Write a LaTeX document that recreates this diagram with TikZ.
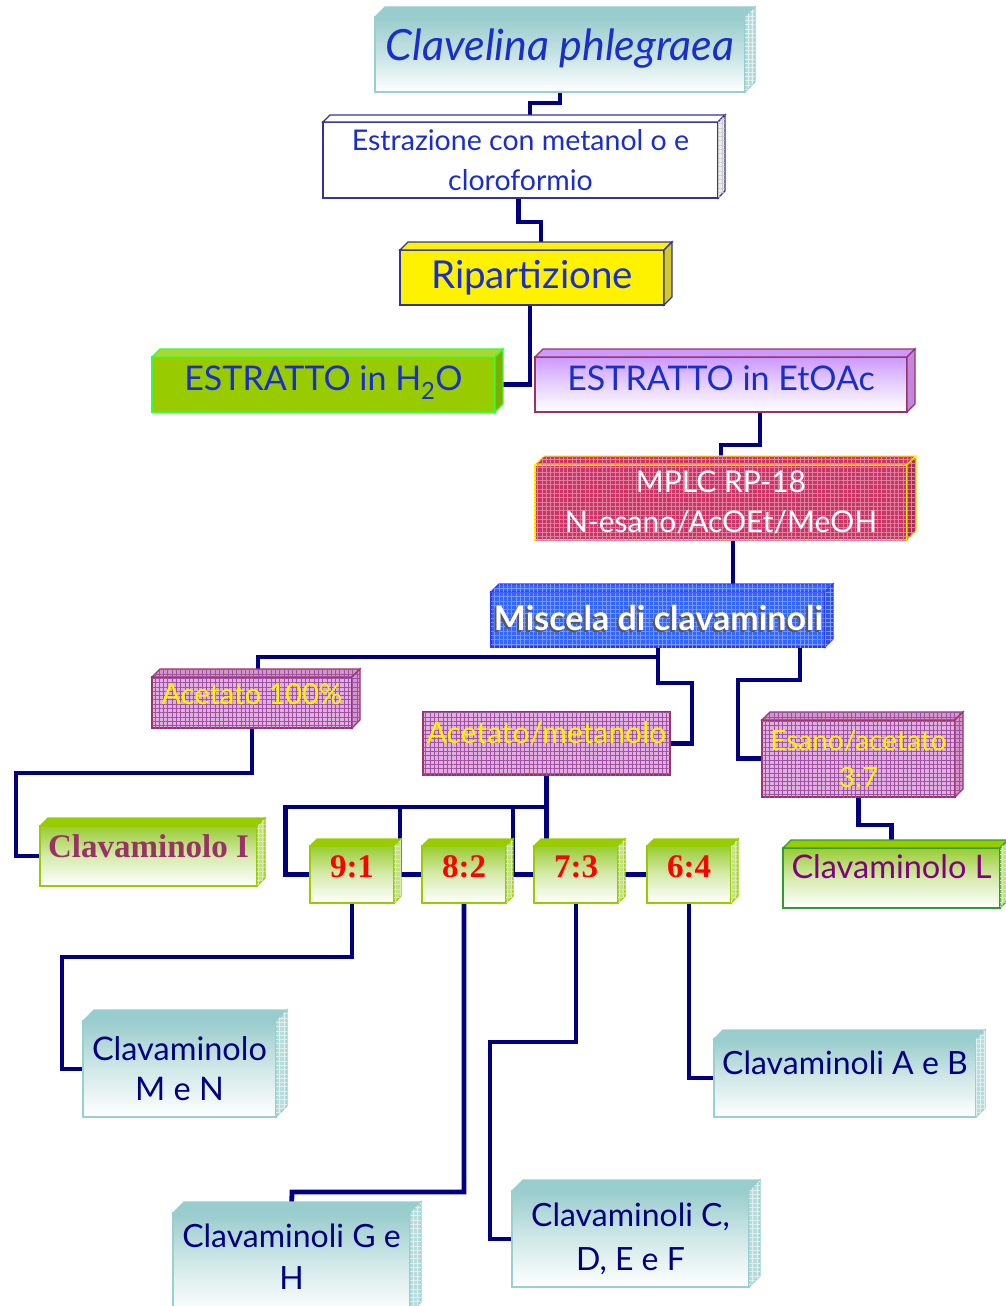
\documentclass[tikz,border=0pt]{standalone}
\usepackage{fontspec}
\setmainfont{Lato}
\newfontfamily\timesfont{Liberation Serif}
\usetikzlibrary{calc,backgrounds,patterns.meta}

\definecolor{wire}{HTML}{000080}
\definecolor{inkblue}{HTML}{1A2ECC}
\definecolor{navytext}{HTML}{000080}
\definecolor{teal1}{HTML}{99CCCC}
\definecolor{tealedge}{HTML}{9ACFCF}
\definecolor{frameblue}{HTML}{333399}
\definecolor{lime}{HTML}{99CC00}
\definecolor{limeedge}{HTML}{33FF33}
\definecolor{lilac}{HTML}{CC99FF}
\definecolor{plum}{HTML}{993366}
\definecolor{rose}{HTML}{CC3366}
\definecolor{roselight}{HTML}{E0809F}
\definecolor{royal}{HTML}{3366FF}
\definecolor{royallight}{HTML}{7799FF}
\definecolor{royaledge}{HTML}{3333FF}
\definecolor{mauve}{HTML}{E0AEE0}
\definecolor{mauvegrid}{HTML}{A050A0}
\definecolor{leaf}{HTML}{99CC33}
\definecolor{leafedge}{HTML}{99CC00}
\definecolor{forest}{HTML}{339933}
\definecolor{wine}{HTML}{993366}
\definecolor{purpletext}{HTML}{800080}

% front face of a slab; the top and side faces are added by \slabfaces
\newcommand\slabfaces[4]{% node, depth, top-face options, side-face options
  \path[line width=1.3pt,#3] (#1.north west) -- ++(#2,-#2)
     -- ([shift={(#2,-#2)}]#1.north east) -- (#1.north east) -- cycle;
  \path[line width=1.3pt,#4] (#1.north east) -- ++(#2,-#2)
     -- ([shift={(#2,-#2)}]#1.south east) -- (#1.south east) -- cycle;
}

\tikzset{
  slab/.style={draw, line width=1.3pt, inner sep=0pt, outer sep=0pt,
               anchor=north west, align=center},
  wired/.style={draw=wire, line width=4.8pt},
  gridfill/.style 2 args={fill=#1, postaction={pattern={Hatch[angle=0,distance=4.3pt,line width=0.5pt]}, pattern color=#2}},
  tealbox/.style={slab, draw=tealedge, top color=teal1, bottom color=white,
                  middle color=teal1!45, text=navytext},
  tealtop/.style={draw=tealedge, fill=teal1},
  tealside/.style={draw=tealedge, gridfill={teal1!70}{white!70!teal1}},
  leafbox/.style={slab, draw=leafedge, top color=leaf, bottom color=white, middle color=leaf!40},
  leaftop/.style={draw=leafedge, fill=leafedge},
  leafside/.style={draw=leafedge, gridfill={leaf!60}{white!60!leaf}},
  mauvebox/.style={slab, draw=plum, gridfill={mauve}{mauvegrid}, text=yellow},
  mauveface/.style={draw=plum, gridfill={mauve!80!plum}{mauvegrid}},
  lift/.style={text depth=#1},
}

\begin{document}
\begin{tikzpicture}[x=1pt,y=-1pt]
\useasboundingbox (0,0) rectangle (1005,1306);

% ---------- boxes ----------
\node[slab, draw=tealedge, top color=teal1, bottom color=white, middle color=teal1!55,
      minimum width=370, minimum height=75, text=inkblue, lift=20pt,
      font={\fontsize{43}{46}\selectfont\itshape}]
  (clav) at (375,17) {Clavelina phlegraea};
\slabfaces{clav}{10}{tealtop}{tealside}

\node[slab, draw=frameblue, fill=white, minimum width=395, minimum height=76, text=inkblue,
      font={\fontsize{28.5}{40}\selectfont}]
  (estr) at (323,122) {Estrazione con metanol o e\\cloroformio};
\slabfaces{estr}{7}{draw=frameblue, fill=white}{draw=frameblue, gridfill={gray!15}{gray!40}}

\node[slab, draw=frameblue, fill=yellow, minimum width=264, minimum height=55, text=inkblue,
      font={\fontsize{38.5}{42}\selectfont}]
  (rip) at (400,250) {Ripartizione};
\slabfaces{rip}{8}{draw=frameblue, fill=yellow}{draw=frameblue, fill=yellow!80!black}

\node[slab, draw=limeedge, fill=lime, minimum width=343, minimum height=55, text=inkblue,
      lift=12pt, font={\fontsize{34}{38}\selectfont}]
  (h2o) at (152,357) {ESTRATTO in H\textsubscript{2}O};
\slabfaces{h2o}{8}{draw=limeedge, fill=lime!80!white}{draw=limeedge, fill=lime!85!black}

\node[slab, draw=plum, top color=lilac, bottom color=white, middle color=lilac!45,
      minimum width=372, minimum height=55, text=inkblue, lift=12pt,
      font={\fontsize{34}{38}\selectfont}]
  (etoac) at (535,357) {ESTRATTO in EtOAc};
\slabfaces{etoac}{8}{draw=plum, fill=lilac}{draw=plum, fill=lilac!80!plum}

\node[slab, draw=yellow, gridfill={rose}{roselight}, minimum width=372, minimum height=75,
      text=white, font={\fontsize{30}{40}\selectfont}]
  (mplc) at (535,465) {MPLC RP-18\\N-esano/AcOEt/MeOH};
\slabfaces{mplc}{9}{draw=yellow, gridfill={rose}{roselight}}{draw=yellow, gridfill={rose!85!black}{roselight}}

\node[slab, draw=royaledge, gridfill={royal}{royallight}, minimum width=334, minimum height=55]
  (misc) at (491,592) {};
\slabfaces{misc}{8}{draw=royaledge, gridfill={royal}{royallight}}{draw=royaledge, gridfill={royal!85!black}{royallight}}
\node[text=black!65, font={\fontsize{34}{38}\selectfont\bfseries}]
  (miscshade) at ($(misc.center)+(-1.5,0)$) {Miscela di clavaminoli};
\node[text=white, font={\fontsize{34}{38}\selectfont\bfseries}]
  (misctext) at ($(misc.center)+(0.5,-2)$) {Miscela di clavaminoli};

\node[mauvebox, minimum width=200, minimum height=51, lift=17pt,
      font={\fontsize{29}{32}\selectfont}]
  (a100) at (152,677) {Acetato 100\%};
\slabfaces{a100}{8}{mauveface}{mauveface}

\node[mauvebox, minimum width=247, minimum height=63] (am) at (423,712) {};
\node[text=yellow, font={\fontsize{30}{33}\selectfont}]
  (amtext) at ($(am.north)+(0,21)$) {Acetato/metanolo};

\node[mauvebox, minimum width=193, minimum height=77, font={\fontsize{28}{37}\selectfont}]
  (esano) at (762,720) {Esano/acetato\\3:7};
\slabfaces{esano}{8}{mauveface}{mauveface}

\node[leafbox, minimum width=217, minimum height=60, text=wine, lift=20pt,
      font={\fontsize{33}{36}\selectfont\timesfont\bfseries}]
  (clavI) at (40,826) {Clavaminolo I};
\slabfaces{clavI}{8}{leaftop}{leafside}

\node[leafbox, draw=forest, minimum width=217, minimum height=60, text=purpletext, lift=22pt,
      font={\fontsize{32.5}{36}\selectfont}]
  (clavL) at (783,848) {Clavaminolo L};
\slabfaces{clavL}{8}{draw=forest, fill=leafedge}{draw=forest, gridfill={leaf!60}{white!60!leaf}}

\foreach \nm/\xx/\lab in {r91/310/9:1, r82/422/8:2, r73/534/7:3, r64/647/6:4}{
  \node[leafbox, minimum width=84, minimum height=57, text=red, lift=16pt,
        font={\fontsize{33}{35}\selectfont\timesfont\bfseries}]
    (\nm) at (\xx,846) {\lab};
  \slabfaces{\nm}{7}{leaftop}{leafside}
}

\node[tealbox, minimum width=193, minimum height=96, font={\fontsize{32.5}{40}\selectfont}]
  (mn) at (83,1021) {Clavaminolo\\M e N};
\slabfaces{mn}{11}{tealtop}{tealside}

\node[tealbox, minimum width=237, minimum height=100, lift=12pt,
      font={\fontsize{32}{42}\selectfont}]
  (gh) at (173,1213) {Clavaminoli G e\\H};
\slabfaces{gh}{11}{tealtop}{tealside}

\node[tealbox, minimum width=262, minimum height=78, lift=30pt,
      font={\fontsize{32}{36}\selectfont}]
  (ab) at (714,1039) {Clavaminoli A e B};
\slabfaces{ab}{9}{tealtop}{tealside}

\node[tealbox, minimum width=237, minimum height=96, font={\fontsize{32}{44}\selectfont}]
  (cdef) at (512,1191) {Clavaminoli C,\\D, E e F};
\slabfaces{cdef}{11}{tealtop}{tealside}

% ---------- connectors ----------
\begin{scope}[on background layer]
  \draw[wired] (clav.south) -- ++(0,11) -| ($(estr.north west)+(207,0)$);
  \draw[wired] ($(estr.south)+(-2,0)$) -- ++(0,24) -| ($(rip.north)+(9,0)$);
  \draw[wired] ($(rip.south)+(-2,0)$) |- (h2o.east);
  \draw[wired] ($(etoac.south)+(39,0)$) -- ++(0,33) -| (mplc.north);
  \draw[wired] ($(mplc.south)+(12,0)$) -- ++(0,52);

  \draw[wired] (misc.south) -- ++(0,10) -| ($(a100.north)+(6,0)$);
  \draw[wired] (misc.south) |- ++(34,36) |- (am.east);
  \draw[wired] ($(misc.south)+(142,0)$) |- ++(-62,33) |- (esano.west);

  \draw[wired] (a100.south) |- ++(-236,45) |- (clavI.west);
  \draw[wired] (esano.south) -- ++(0,28) -| (clavL.north);

  \draw[wired] (am.south) |- ++(-261,32) |- (r91.west);
  \draw[wired] ($(am.south)+(0,32)$) -| ($(r82.west)+(-22,0)$) -- (r82.west);
  \draw[wired] ($(am.south)+(0,32)$) -| ($(r73.west)+(-21,0)$) -- (r73.west);
  \draw[wired] (am.south) -- (am.south |- r73.north);
  \draw[wired] (r73.east) -- (r64.west);

  \draw[wired] (r91.south) |- ++(-290,54) |- (mn.west);
  \draw[wired] (r82.south) |- ++(-172,289) -- (gh.north);
  \draw[wired] (r73.south) |- ++(-86,139) |- (cdef.west);
  \draw[wired] (r64.south) |- (ab.west);
\end{scope}
\end{tikzpicture}
\end{document}
